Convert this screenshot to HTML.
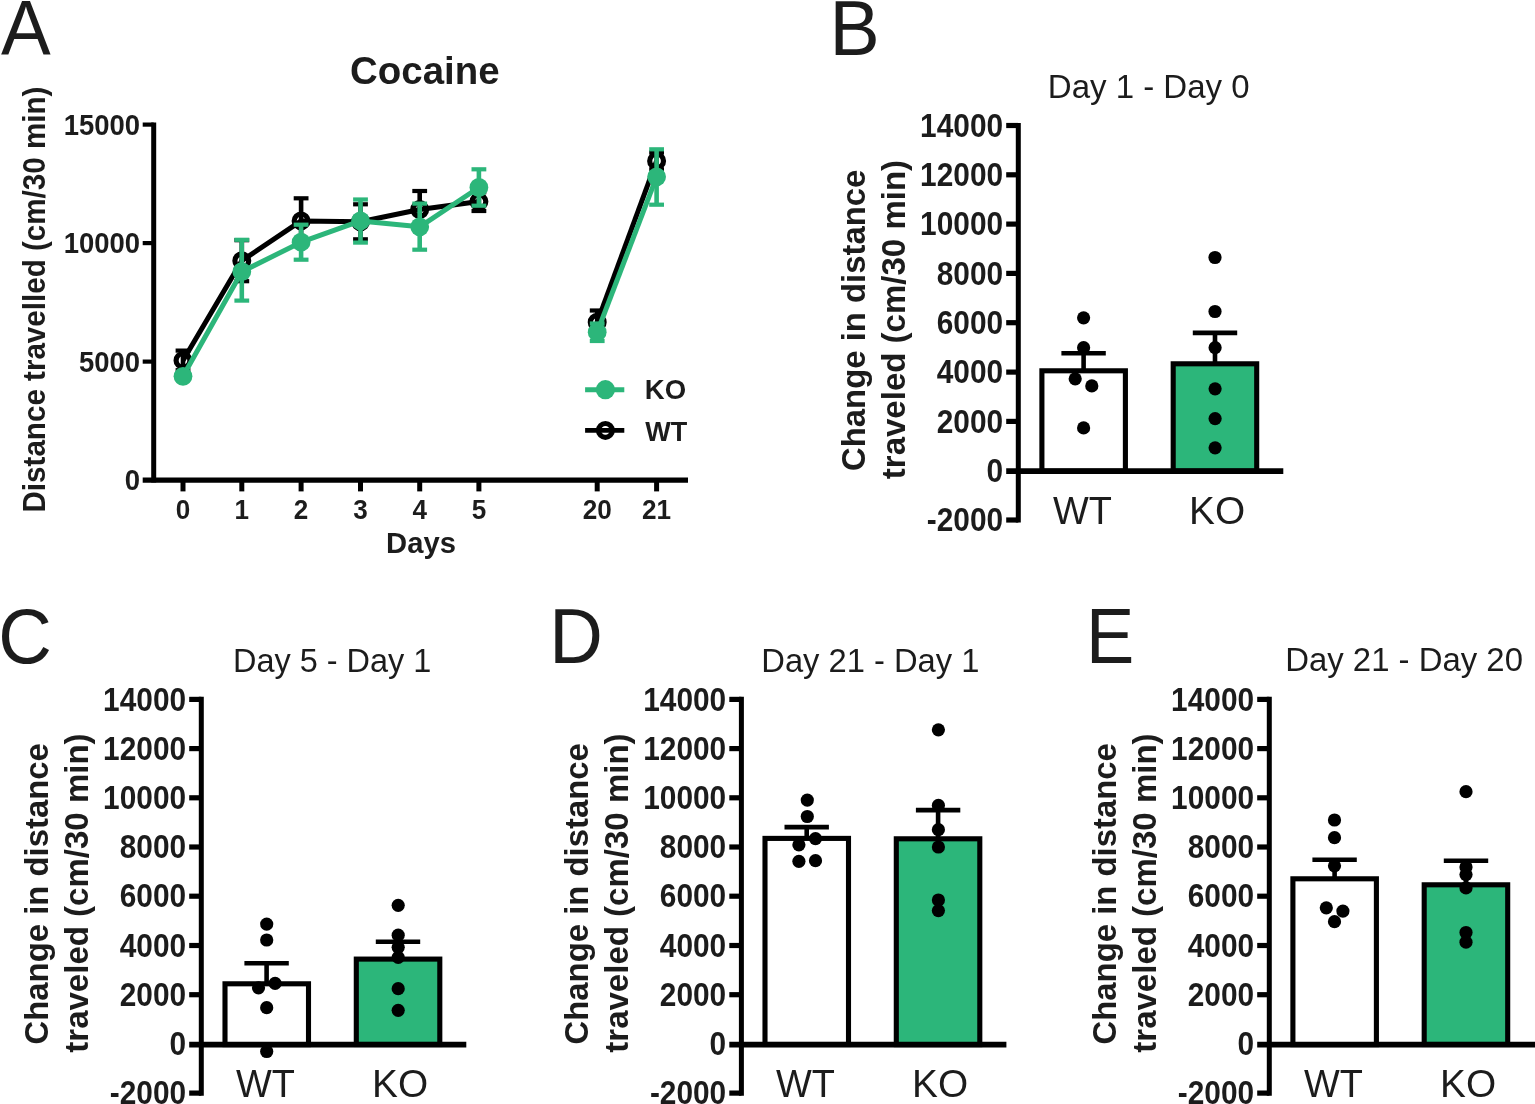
<!DOCTYPE html>
<html><head><meta charset="utf-8"><title>Figure</title>
<style>
html,body{margin:0;padding:0;background:#fff;}
body{width:1535px;height:1104px;overflow:hidden;}
svg{display:block;font-family:"Liberation Sans",sans-serif;}
text{fill:#1c1c1c;}
</style></head><body>
<svg width="1535" height="1104" viewBox="0 0 1535 1104">
<rect width="1535" height="1104" fill="#fff"/>
<text x="1.1" y="55.0" font-size="78.2" textLength="49.7" lengthAdjust="spacingAndGlyphs" fill="#000">A</text>
<text x="424.8" y="84.3" font-size="39.3" font-weight="bold" text-anchor="middle" textLength="149.5" lengthAdjust="spacingAndGlyphs">Cocaine</text>
<text x="45.3" y="512.5" font-size="31" font-weight="bold" transform="rotate(-90 45.3 512.5)" textLength="425.9" lengthAdjust="spacingAndGlyphs">Distance travelled (cm/30 min)</text>
<line x1="153.7" y1="122.5" x2="153.7" y2="482.6" stroke="#000" stroke-width="5.0"/>
<line x1="142.7" y1="480.1" x2="688.0" y2="480.1" stroke="#000" stroke-width="5.1"/>
<text x="140.0" y="490.2" font-size="28.6" font-weight="bold" text-anchor="end" textLength="15.3" lengthAdjust="spacingAndGlyphs">0</text>
<line x1="142.7" y1="361.6" x2="153.7" y2="361.6" stroke="#000" stroke-width="4.2"/>
<text x="140.0" y="371.7" font-size="28.6" font-weight="bold" text-anchor="end" textLength="61.1" lengthAdjust="spacingAndGlyphs">5000</text>
<line x1="142.7" y1="243.1" x2="153.7" y2="243.1" stroke="#000" stroke-width="4.2"/>
<text x="140.0" y="253.2" font-size="28.6" font-weight="bold" text-anchor="end" textLength="76.3" lengthAdjust="spacingAndGlyphs">10000</text>
<line x1="142.7" y1="124.6" x2="153.7" y2="124.6" stroke="#000" stroke-width="4.2"/>
<text x="140.0" y="134.7" font-size="28.6" font-weight="bold" text-anchor="end" textLength="76.3" lengthAdjust="spacingAndGlyphs">15000</text>
<line x1="183.0" y1="480.1" x2="183.0" y2="491.4" stroke="#000" stroke-width="5.0"/>
<text x="183.0" y="518.7" font-size="28.4" font-weight="bold" text-anchor="middle" textLength="14.5" lengthAdjust="spacingAndGlyphs">0</text>
<line x1="241.8" y1="480.1" x2="241.8" y2="491.4" stroke="#000" stroke-width="5.0"/>
<text x="241.8" y="518.7" font-size="28.4" font-weight="bold" text-anchor="middle" textLength="14.5" lengthAdjust="spacingAndGlyphs">1</text>
<line x1="301.1" y1="480.1" x2="301.1" y2="491.4" stroke="#000" stroke-width="5.0"/>
<text x="301.1" y="518.7" font-size="28.4" font-weight="bold" text-anchor="middle" textLength="14.5" lengthAdjust="spacingAndGlyphs">2</text>
<line x1="360.5" y1="480.1" x2="360.5" y2="491.4" stroke="#000" stroke-width="5.0"/>
<text x="360.5" y="518.7" font-size="28.4" font-weight="bold" text-anchor="middle" textLength="14.5" lengthAdjust="spacingAndGlyphs">3</text>
<line x1="419.7" y1="480.1" x2="419.7" y2="491.4" stroke="#000" stroke-width="5.0"/>
<text x="419.7" y="518.7" font-size="28.4" font-weight="bold" text-anchor="middle" textLength="14.5" lengthAdjust="spacingAndGlyphs">4</text>
<line x1="478.9" y1="480.1" x2="478.9" y2="491.4" stroke="#000" stroke-width="5.0"/>
<text x="478.9" y="518.7" font-size="28.4" font-weight="bold" text-anchor="middle" textLength="14.5" lengthAdjust="spacingAndGlyphs">5</text>
<line x1="597.2" y1="480.1" x2="597.2" y2="491.4" stroke="#000" stroke-width="5.0"/>
<text x="597.2" y="518.7" font-size="28.4" font-weight="bold" text-anchor="middle" textLength="29.1" lengthAdjust="spacingAndGlyphs">20</text>
<line x1="656.6" y1="480.1" x2="656.6" y2="491.4" stroke="#000" stroke-width="5.0"/>
<text x="656.6" y="518.7" font-size="28.4" font-weight="bold" text-anchor="middle" textLength="29.1" lengthAdjust="spacingAndGlyphs">21</text>
<text x="421.0" y="552.5" font-size="29.2" font-weight="bold" text-anchor="middle">Days</text>
<line x1="183.0" y1="350.6" x2="183.0" y2="370.2" stroke="#000" stroke-width="4.6"/>
<line x1="175.6" y1="350.6" x2="190.4" y2="350.6" stroke="#000" stroke-width="4.2"/>
<line x1="175.6" y1="370.2" x2="190.4" y2="370.2" stroke="#000" stroke-width="4.2"/>
<line x1="241.8" y1="240.2" x2="241.8" y2="281.2" stroke="#000" stroke-width="4.6"/>
<line x1="234.4" y1="240.2" x2="249.2" y2="240.2" stroke="#000" stroke-width="4.2"/>
<line x1="234.4" y1="281.2" x2="249.2" y2="281.2" stroke="#000" stroke-width="4.2"/>
<line x1="301.1" y1="198.3" x2="301.1" y2="243.5" stroke="#000" stroke-width="4.6"/>
<line x1="293.7" y1="198.3" x2="308.5" y2="198.3" stroke="#000" stroke-width="4.2"/>
<line x1="293.7" y1="243.5" x2="308.5" y2="243.5" stroke="#000" stroke-width="4.2"/>
<line x1="360.5" y1="204.3" x2="360.5" y2="239.3" stroke="#000" stroke-width="4.6"/>
<line x1="353.1" y1="204.3" x2="367.9" y2="204.3" stroke="#000" stroke-width="4.2"/>
<line x1="353.1" y1="239.3" x2="367.9" y2="239.3" stroke="#000" stroke-width="4.2"/>
<line x1="419.7" y1="191.0" x2="419.7" y2="228.0" stroke="#000" stroke-width="4.6"/>
<line x1="412.3" y1="191.0" x2="427.1" y2="191.0" stroke="#000" stroke-width="4.2"/>
<line x1="412.3" y1="228.0" x2="427.1" y2="228.0" stroke="#000" stroke-width="4.2"/>
<line x1="478.9" y1="192.2" x2="478.9" y2="211.0" stroke="#000" stroke-width="4.6"/>
<line x1="471.5" y1="192.2" x2="486.3" y2="192.2" stroke="#000" stroke-width="4.2"/>
<line x1="471.5" y1="211.0" x2="486.3" y2="211.0" stroke="#000" stroke-width="4.2"/>
<line x1="597.2" y1="310.5" x2="597.2" y2="334.0" stroke="#000" stroke-width="4.6"/>
<line x1="589.8" y1="310.5" x2="604.6" y2="310.5" stroke="#000" stroke-width="4.2"/>
<line x1="589.8" y1="334.0" x2="604.6" y2="334.0" stroke="#000" stroke-width="4.2"/>
<line x1="656.6" y1="152.5" x2="656.6" y2="169.3" stroke="#000" stroke-width="4.6"/>
<line x1="649.2" y1="152.5" x2="664.0" y2="152.5" stroke="#000" stroke-width="4.2"/>
<line x1="649.2" y1="169.3" x2="664.0" y2="169.3" stroke="#000" stroke-width="4.2"/>
<polyline points="183.0,360.4 241.8,260.7 301.1,220.9 360.5,221.8 419.7,209.5 478.9,201.6" fill="none" stroke="#000" stroke-width="5.0" stroke-linejoin="round"/>
<polyline points="597.2,322.2 656.6,160.9" fill="none" stroke="#000" stroke-width="5.0" stroke-linejoin="round"/>
<circle cx="183.0" cy="360.4" r="6.9" fill="none" stroke="#000" stroke-width="5.2"/>
<circle cx="241.8" cy="260.7" r="6.9" fill="none" stroke="#000" stroke-width="5.2"/>
<circle cx="301.1" cy="220.9" r="6.9" fill="none" stroke="#000" stroke-width="5.2"/>
<circle cx="360.5" cy="221.8" r="6.9" fill="none" stroke="#000" stroke-width="5.2"/>
<circle cx="419.7" cy="209.5" r="6.9" fill="none" stroke="#000" stroke-width="5.2"/>
<circle cx="478.9" cy="201.6" r="6.9" fill="none" stroke="#000" stroke-width="5.2"/>
<circle cx="597.2" cy="322.2" r="6.9" fill="none" stroke="#000" stroke-width="5.2"/>
<circle cx="656.6" cy="160.9" r="6.9" fill="none" stroke="#000" stroke-width="5.2"/>
<line x1="183.0" y1="373.3" x2="183.0" y2="379.3" stroke="#2cb67a" stroke-width="4.6"/>
<line x1="175.6" y1="373.3" x2="190.4" y2="373.3" stroke="#2cb67a" stroke-width="4.2"/>
<line x1="175.6" y1="379.3" x2="190.4" y2="379.3" stroke="#2cb67a" stroke-width="4.2"/>
<line x1="241.8" y1="239.8" x2="241.8" y2="300.6" stroke="#2cb67a" stroke-width="4.6"/>
<line x1="234.4" y1="239.8" x2="249.2" y2="239.8" stroke="#2cb67a" stroke-width="4.2"/>
<line x1="234.4" y1="300.6" x2="249.2" y2="300.6" stroke="#2cb67a" stroke-width="4.2"/>
<line x1="301.1" y1="224.7" x2="301.1" y2="259.7" stroke="#2cb67a" stroke-width="4.6"/>
<line x1="293.7" y1="224.7" x2="308.5" y2="224.7" stroke="#2cb67a" stroke-width="4.2"/>
<line x1="293.7" y1="259.7" x2="308.5" y2="259.7" stroke="#2cb67a" stroke-width="4.2"/>
<line x1="360.5" y1="199.5" x2="360.5" y2="242.6" stroke="#2cb67a" stroke-width="4.6"/>
<line x1="353.1" y1="199.5" x2="367.9" y2="199.5" stroke="#2cb67a" stroke-width="4.2"/>
<line x1="353.1" y1="242.6" x2="367.9" y2="242.6" stroke="#2cb67a" stroke-width="4.2"/>
<line x1="419.7" y1="203.6" x2="419.7" y2="249.7" stroke="#2cb67a" stroke-width="4.6"/>
<line x1="412.3" y1="203.6" x2="427.1" y2="203.6" stroke="#2cb67a" stroke-width="4.2"/>
<line x1="412.3" y1="249.7" x2="427.1" y2="249.7" stroke="#2cb67a" stroke-width="4.2"/>
<line x1="478.9" y1="169.3" x2="478.9" y2="205.7" stroke="#2cb67a" stroke-width="4.6"/>
<line x1="471.5" y1="169.3" x2="486.3" y2="169.3" stroke="#2cb67a" stroke-width="4.2"/>
<line x1="471.5" y1="205.7" x2="486.3" y2="205.7" stroke="#2cb67a" stroke-width="4.2"/>
<line x1="597.2" y1="323.5" x2="597.2" y2="341.0" stroke="#2cb67a" stroke-width="4.6"/>
<line x1="589.8" y1="323.5" x2="604.6" y2="323.5" stroke="#2cb67a" stroke-width="4.2"/>
<line x1="589.8" y1="341.0" x2="604.6" y2="341.0" stroke="#2cb67a" stroke-width="4.2"/>
<line x1="656.6" y1="149.3" x2="656.6" y2="204.7" stroke="#2cb67a" stroke-width="4.6"/>
<line x1="649.2" y1="149.3" x2="664.0" y2="149.3" stroke="#2cb67a" stroke-width="4.2"/>
<line x1="649.2" y1="204.7" x2="664.0" y2="204.7" stroke="#2cb67a" stroke-width="4.2"/>
<polyline points="183.0,376.3 241.8,271.7 301.1,242.2 360.5,220.9 419.7,226.8 478.9,187.5" fill="none" stroke="#2cb67a" stroke-width="5.0" stroke-linejoin="round"/>
<polyline points="597.2,332.2 656.6,176.8" fill="none" stroke="#2cb67a" stroke-width="5.0" stroke-linejoin="round"/>
<circle cx="183.0" cy="376.3" r="9.4" fill="#2cb67a"/>
<circle cx="241.8" cy="271.7" r="9.4" fill="#2cb67a"/>
<circle cx="301.1" cy="242.2" r="9.4" fill="#2cb67a"/>
<circle cx="360.5" cy="220.9" r="9.4" fill="#2cb67a"/>
<circle cx="419.7" cy="226.8" r="9.4" fill="#2cb67a"/>
<circle cx="478.9" cy="187.5" r="9.4" fill="#2cb67a"/>
<circle cx="597.2" cy="332.2" r="9.4" fill="#2cb67a"/>
<circle cx="656.6" cy="176.8" r="9.4" fill="#2cb67a"/>
<line x1="585.1" y1="389.7" x2="624.3" y2="389.7" stroke="#2cb67a" stroke-width="5.0"/>
<circle cx="605.4" cy="389.7" r="9.6" fill="#2cb67a"/>
<text x="644.8" y="399.3" font-size="28" font-weight="bold" textLength="41.3" lengthAdjust="spacingAndGlyphs">KO</text>
<line x1="585.1" y1="430.4" x2="624.3" y2="430.4" stroke="#000" stroke-width="4.8"/>
<circle cx="605.4" cy="430.4" r="6.9" fill="none" stroke="#000" stroke-width="5.2"/>
<text x="645.3" y="440.6" font-size="28" font-weight="bold" textLength="42.0" lengthAdjust="spacingAndGlyphs">WT</text>
<text x="829.4" y="55.0" font-size="78.2" textLength="50.2" lengthAdjust="spacingAndGlyphs" fill="#000">B</text>
<text x="1047.8" y="97.5" font-size="32.6" textLength="201.8" lengthAdjust="spacingAndGlyphs">Day 1 - Day 0</text>
<text x="864.9" y="471.0" font-size="33" font-weight="bold" transform="rotate(-90 864.9 471.0)" textLength="301.4" lengthAdjust="spacingAndGlyphs">Change in distance</text>
<text x="904.7" y="479.2" font-size="33" font-weight="bold" transform="rotate(-90 904.7 479.2)" textLength="319.3" lengthAdjust="spacingAndGlyphs">traveled (cm/30 min)</text>
<rect x="1041.9" y="370.8" width="83.5" height="100.3" fill="#fff" stroke="#000" stroke-width="5.1"/>
<rect x="1173.2" y="363.8" width="83.5" height="107.3" fill="#2cb67a" stroke="#000" stroke-width="5.1"/>
<line x1="1083.6" y1="353.2" x2="1083.6" y2="370.2" stroke="#000" stroke-width="4.6"/>
<line x1="1061.4" y1="353.2" x2="1105.8" y2="353.2" stroke="#000" stroke-width="4.6"/>
<line x1="1215.0" y1="332.9" x2="1215.0" y2="363.2" stroke="#000" stroke-width="4.6"/>
<line x1="1192.8" y1="332.9" x2="1237.2" y2="332.9" stroke="#000" stroke-width="4.6"/>
<line x1="1018.3" y1="122.9" x2="1018.3" y2="522.6" stroke="#000" stroke-width="5.0"/>
<line x1="1006.2" y1="471.1" x2="1283.3" y2="471.1" stroke="#000" stroke-width="5.6"/>
<line x1="1006.2" y1="520.0" x2="1018.3" y2="520.0" stroke="#000" stroke-width="5.2"/>
<text x="1003.1" y="531.1" font-size="33.6" font-weight="bold" text-anchor="end" textLength="76.3" lengthAdjust="spacingAndGlyphs">-2000</text>
<text x="1003.1" y="481.8" font-size="33.6" font-weight="bold" text-anchor="end" textLength="16.6" lengthAdjust="spacingAndGlyphs">0</text>
<line x1="1006.2" y1="421.4" x2="1018.3" y2="421.4" stroke="#000" stroke-width="5.2"/>
<text x="1003.1" y="432.5" font-size="33.6" font-weight="bold" text-anchor="end" textLength="66.4" lengthAdjust="spacingAndGlyphs">2000</text>
<line x1="1006.2" y1="372.1" x2="1018.3" y2="372.1" stroke="#000" stroke-width="5.2"/>
<text x="1003.1" y="383.2" font-size="33.6" font-weight="bold" text-anchor="end" textLength="66.4" lengthAdjust="spacingAndGlyphs">4000</text>
<line x1="1006.2" y1="322.7" x2="1018.3" y2="322.7" stroke="#000" stroke-width="5.2"/>
<text x="1003.1" y="333.8" font-size="33.6" font-weight="bold" text-anchor="end" textLength="66.4" lengthAdjust="spacingAndGlyphs">6000</text>
<line x1="1006.2" y1="273.4" x2="1018.3" y2="273.4" stroke="#000" stroke-width="5.2"/>
<text x="1003.1" y="284.5" font-size="33.6" font-weight="bold" text-anchor="end" textLength="66.4" lengthAdjust="spacingAndGlyphs">8000</text>
<line x1="1006.2" y1="224.1" x2="1018.3" y2="224.1" stroke="#000" stroke-width="5.2"/>
<text x="1003.1" y="235.2" font-size="33.6" font-weight="bold" text-anchor="end" textLength="83.0" lengthAdjust="spacingAndGlyphs">10000</text>
<line x1="1006.2" y1="174.8" x2="1018.3" y2="174.8" stroke="#000" stroke-width="5.2"/>
<text x="1003.1" y="185.9" font-size="33.6" font-weight="bold" text-anchor="end" textLength="83.0" lengthAdjust="spacingAndGlyphs">12000</text>
<line x1="1006.2" y1="125.5" x2="1018.3" y2="125.5" stroke="#000" stroke-width="5.2"/>
<text x="1003.1" y="136.6" font-size="33.6" font-weight="bold" text-anchor="end" textLength="83.0" lengthAdjust="spacingAndGlyphs">14000</text>
<circle cx="1083.6" cy="317.8" r="6.6" fill="#000"/>
<circle cx="1083.6" cy="347.7" r="6.6" fill="#000"/>
<circle cx="1075.2" cy="378.8" r="6.6" fill="#000"/>
<circle cx="1091.8" cy="385.9" r="6.6" fill="#000"/>
<circle cx="1083.6" cy="427.9" r="6.6" fill="#000"/>
<circle cx="1215.0" cy="257.5" r="6.6" fill="#000"/>
<circle cx="1215.0" cy="311.5" r="6.6" fill="#000"/>
<circle cx="1215.1" cy="347.7" r="6.6" fill="#000"/>
<circle cx="1215.1" cy="388.8" r="6.6" fill="#000"/>
<circle cx="1215.1" cy="418.6" r="6.6" fill="#000"/>
<circle cx="1215.1" cy="447.8" r="6.6" fill="#000"/>
<text x="1052.9" y="523.8" font-size="39.5" textLength="58.9" lengthAdjust="spacingAndGlyphs">WT</text>
<text x="1189.0" y="523.8" font-size="39.5" textLength="56.1" lengthAdjust="spacingAndGlyphs">KO</text>
<text x="-1.7" y="663.4" font-size="78.2" textLength="53.6" lengthAdjust="spacingAndGlyphs" fill="#000">C</text>
<text x="233.0" y="671.5" font-size="32.6" textLength="198.3" lengthAdjust="spacingAndGlyphs">Day 5 - Day 1</text>
<text x="47.9" y="1044.5" font-size="33" font-weight="bold" transform="rotate(-90 47.9 1044.5)" textLength="301.4" lengthAdjust="spacingAndGlyphs">Change in distance</text>
<text x="87.7" y="1052.7" font-size="33" font-weight="bold" transform="rotate(-90 87.7 1052.7)" textLength="319.3" lengthAdjust="spacingAndGlyphs">traveled (cm/30 min)</text>
<rect x="225.0" y="983.8" width="83.5" height="60.8" fill="#fff" stroke="#000" stroke-width="5.1"/>
<rect x="356.3" y="959.1" width="83.5" height="85.4" fill="#2cb67a" stroke="#000" stroke-width="5.1"/>
<line x1="266.6" y1="963.3" x2="266.6" y2="983.2" stroke="#000" stroke-width="4.6"/>
<line x1="244.4" y1="963.3" x2="288.8" y2="963.3" stroke="#000" stroke-width="4.6"/>
<line x1="398.0" y1="941.8" x2="398.0" y2="958.6" stroke="#000" stroke-width="4.6"/>
<line x1="375.8" y1="941.8" x2="420.2" y2="941.8" stroke="#000" stroke-width="4.6"/>
<line x1="201.3" y1="696.8" x2="201.3" y2="1095.7" stroke="#000" stroke-width="5.0"/>
<line x1="189.2" y1="1044.6" x2="466.3" y2="1044.6" stroke="#000" stroke-width="5.6"/>
<line x1="189.2" y1="1093.1" x2="201.3" y2="1093.1" stroke="#000" stroke-width="5.2"/>
<text x="186.1" y="1104.2" font-size="33.6" font-weight="bold" text-anchor="end" textLength="76.3" lengthAdjust="spacingAndGlyphs">-2000</text>
<text x="186.1" y="1055.0" font-size="33.6" font-weight="bold" text-anchor="end" textLength="16.6" lengthAdjust="spacingAndGlyphs">0</text>
<line x1="189.2" y1="994.7" x2="201.3" y2="994.7" stroke="#000" stroke-width="5.2"/>
<text x="186.1" y="1005.8" font-size="33.6" font-weight="bold" text-anchor="end" textLength="66.4" lengthAdjust="spacingAndGlyphs">2000</text>
<line x1="189.2" y1="945.5" x2="201.3" y2="945.5" stroke="#000" stroke-width="5.2"/>
<text x="186.1" y="956.6" font-size="33.6" font-weight="bold" text-anchor="end" textLength="66.4" lengthAdjust="spacingAndGlyphs">4000</text>
<line x1="189.2" y1="896.2" x2="201.3" y2="896.2" stroke="#000" stroke-width="5.2"/>
<text x="186.1" y="907.3" font-size="33.6" font-weight="bold" text-anchor="end" textLength="66.4" lengthAdjust="spacingAndGlyphs">6000</text>
<line x1="189.2" y1="847.0" x2="201.3" y2="847.0" stroke="#000" stroke-width="5.2"/>
<text x="186.1" y="858.1" font-size="33.6" font-weight="bold" text-anchor="end" textLength="66.4" lengthAdjust="spacingAndGlyphs">8000</text>
<line x1="189.2" y1="797.8" x2="201.3" y2="797.8" stroke="#000" stroke-width="5.2"/>
<text x="186.1" y="808.9" font-size="33.6" font-weight="bold" text-anchor="end" textLength="83.0" lengthAdjust="spacingAndGlyphs">10000</text>
<line x1="189.2" y1="748.6" x2="201.3" y2="748.6" stroke="#000" stroke-width="5.2"/>
<text x="186.1" y="759.7" font-size="33.6" font-weight="bold" text-anchor="end" textLength="83.0" lengthAdjust="spacingAndGlyphs">12000</text>
<line x1="189.2" y1="699.4" x2="201.3" y2="699.4" stroke="#000" stroke-width="5.2"/>
<text x="186.1" y="710.5" font-size="33.6" font-weight="bold" text-anchor="end" textLength="83.0" lengthAdjust="spacingAndGlyphs">14000</text>
<circle cx="266.7" cy="924.1" r="6.6" fill="#000"/>
<circle cx="266.7" cy="940.0" r="6.6" fill="#000"/>
<circle cx="258.5" cy="987.8" r="6.6" fill="#000"/>
<circle cx="275.1" cy="983.4" r="6.6" fill="#000"/>
<circle cx="266.7" cy="1007.7" r="6.6" fill="#000"/>
<circle cx="266.7" cy="1051.5" r="6.6" fill="#000"/>
<circle cx="398.2" cy="905.3" r="6.6" fill="#000"/>
<circle cx="398.2" cy="935.2" r="6.6" fill="#000"/>
<circle cx="398.2" cy="947.3" r="6.6" fill="#000"/>
<circle cx="398.2" cy="957.3" r="6.6" fill="#000"/>
<circle cx="398.2" cy="988.7" r="6.6" fill="#000"/>
<circle cx="398.2" cy="1010.3" r="6.6" fill="#000"/>
<text x="235.9" y="1097.3" font-size="39.5" textLength="58.9" lengthAdjust="spacingAndGlyphs">WT</text>
<text x="372.0" y="1097.3" font-size="39.5" textLength="56.1" lengthAdjust="spacingAndGlyphs">KO</text>
<text x="549.2" y="662.9" font-size="78.2" textLength="53.6" lengthAdjust="spacingAndGlyphs" fill="#000">D</text>
<text x="761.3" y="671.6" font-size="32.6" textLength="218.1" lengthAdjust="spacingAndGlyphs">Day 21 - Day 1</text>
<text x="588.0" y="1044.5" font-size="33" font-weight="bold" transform="rotate(-90 588.0 1044.5)" textLength="301.4" lengthAdjust="spacingAndGlyphs">Change in distance</text>
<text x="627.8" y="1052.7" font-size="33" font-weight="bold" transform="rotate(-90 627.8 1052.7)" textLength="319.3" lengthAdjust="spacingAndGlyphs">traveled (cm/30 min)</text>
<rect x="765.0" y="838.4" width="83.5" height="206.1" fill="#fff" stroke="#000" stroke-width="5.1"/>
<rect x="896.3" y="838.8" width="83.5" height="205.8" fill="#2cb67a" stroke="#000" stroke-width="5.1"/>
<line x1="806.7" y1="827.1" x2="806.7" y2="837.9" stroke="#000" stroke-width="4.6"/>
<line x1="784.5" y1="827.1" x2="828.9" y2="827.1" stroke="#000" stroke-width="4.6"/>
<line x1="938.1" y1="810.1" x2="938.1" y2="838.2" stroke="#000" stroke-width="4.6"/>
<line x1="915.9" y1="810.1" x2="960.3" y2="810.1" stroke="#000" stroke-width="4.6"/>
<line x1="741.4" y1="696.8" x2="741.4" y2="1095.7" stroke="#000" stroke-width="5.0"/>
<line x1="729.3" y1="1044.6" x2="1006.4" y2="1044.6" stroke="#000" stroke-width="5.6"/>
<line x1="729.3" y1="1093.1" x2="741.4" y2="1093.1" stroke="#000" stroke-width="5.2"/>
<text x="726.2" y="1104.2" font-size="33.6" font-weight="bold" text-anchor="end" textLength="76.3" lengthAdjust="spacingAndGlyphs">-2000</text>
<text x="726.2" y="1055.0" font-size="33.6" font-weight="bold" text-anchor="end" textLength="16.6" lengthAdjust="spacingAndGlyphs">0</text>
<line x1="729.3" y1="994.7" x2="741.4" y2="994.7" stroke="#000" stroke-width="5.2"/>
<text x="726.2" y="1005.8" font-size="33.6" font-weight="bold" text-anchor="end" textLength="66.4" lengthAdjust="spacingAndGlyphs">2000</text>
<line x1="729.3" y1="945.5" x2="741.4" y2="945.5" stroke="#000" stroke-width="5.2"/>
<text x="726.2" y="956.6" font-size="33.6" font-weight="bold" text-anchor="end" textLength="66.4" lengthAdjust="spacingAndGlyphs">4000</text>
<line x1="729.3" y1="896.2" x2="741.4" y2="896.2" stroke="#000" stroke-width="5.2"/>
<text x="726.2" y="907.3" font-size="33.6" font-weight="bold" text-anchor="end" textLength="66.4" lengthAdjust="spacingAndGlyphs">6000</text>
<line x1="729.3" y1="847.0" x2="741.4" y2="847.0" stroke="#000" stroke-width="5.2"/>
<text x="726.2" y="858.1" font-size="33.6" font-weight="bold" text-anchor="end" textLength="66.4" lengthAdjust="spacingAndGlyphs">8000</text>
<line x1="729.3" y1="797.8" x2="741.4" y2="797.8" stroke="#000" stroke-width="5.2"/>
<text x="726.2" y="808.9" font-size="33.6" font-weight="bold" text-anchor="end" textLength="83.0" lengthAdjust="spacingAndGlyphs">10000</text>
<line x1="729.3" y1="748.6" x2="741.4" y2="748.6" stroke="#000" stroke-width="5.2"/>
<text x="726.2" y="759.7" font-size="33.6" font-weight="bold" text-anchor="end" textLength="83.0" lengthAdjust="spacingAndGlyphs">12000</text>
<line x1="729.3" y1="699.4" x2="741.4" y2="699.4" stroke="#000" stroke-width="5.2"/>
<text x="726.2" y="710.5" font-size="33.6" font-weight="bold" text-anchor="end" textLength="83.0" lengthAdjust="spacingAndGlyphs">14000</text>
<circle cx="807.3" cy="800.1" r="6.6" fill="#000"/>
<circle cx="807.3" cy="816.5" r="6.6" fill="#000"/>
<circle cx="815.5" cy="838.6" r="6.6" fill="#000"/>
<circle cx="798.9" cy="844.8" r="6.6" fill="#000"/>
<circle cx="798.9" cy="861.3" r="6.6" fill="#000"/>
<circle cx="815.5" cy="860.7" r="6.6" fill="#000"/>
<circle cx="938.4" cy="729.8" r="6.6" fill="#000"/>
<circle cx="938.4" cy="805.4" r="6.6" fill="#000"/>
<circle cx="938.4" cy="829.7" r="6.6" fill="#000"/>
<circle cx="938.4" cy="847.0" r="6.6" fill="#000"/>
<circle cx="938.4" cy="900.0" r="6.6" fill="#000"/>
<circle cx="938.4" cy="910.6" r="6.6" fill="#000"/>
<text x="776.0" y="1097.3" font-size="39.5" textLength="58.9" lengthAdjust="spacingAndGlyphs">WT</text>
<text x="912.1" y="1097.3" font-size="39.5" textLength="56.1" lengthAdjust="spacingAndGlyphs">KO</text>
<text x="1086.1" y="662.9" font-size="78.2" textLength="48.3" lengthAdjust="spacingAndGlyphs" fill="#000">E</text>
<text x="1285.2" y="671.4" font-size="32.6" textLength="237.8" lengthAdjust="spacingAndGlyphs">Day 21 - Day 20</text>
<text x="1115.9" y="1044.5" font-size="33" font-weight="bold" transform="rotate(-90 1115.9 1044.5)" textLength="301.4" lengthAdjust="spacingAndGlyphs">Change in distance</text>
<text x="1155.7" y="1052.7" font-size="33" font-weight="bold" transform="rotate(-90 1155.7 1052.7)" textLength="319.3" lengthAdjust="spacingAndGlyphs">traveled (cm/30 min)</text>
<rect x="1292.9" y="878.8" width="83.5" height="165.8" fill="#fff" stroke="#000" stroke-width="5.1"/>
<rect x="1424.2" y="884.8" width="83.5" height="159.7" fill="#2cb67a" stroke="#000" stroke-width="5.1"/>
<line x1="1334.6" y1="859.8" x2="1334.6" y2="878.2" stroke="#000" stroke-width="4.6"/>
<line x1="1312.4" y1="859.8" x2="1356.8" y2="859.8" stroke="#000" stroke-width="4.6"/>
<line x1="1466.0" y1="860.7" x2="1466.0" y2="884.3" stroke="#000" stroke-width="4.6"/>
<line x1="1443.8" y1="860.7" x2="1488.2" y2="860.7" stroke="#000" stroke-width="4.6"/>
<line x1="1269.3" y1="696.8" x2="1269.3" y2="1095.7" stroke="#000" stroke-width="5.0"/>
<line x1="1257.2" y1="1044.6" x2="1535.0" y2="1044.6" stroke="#000" stroke-width="5.6"/>
<line x1="1257.2" y1="1093.1" x2="1269.3" y2="1093.1" stroke="#000" stroke-width="5.2"/>
<text x="1254.1" y="1104.2" font-size="33.6" font-weight="bold" text-anchor="end" textLength="76.3" lengthAdjust="spacingAndGlyphs">-2000</text>
<text x="1254.1" y="1055.0" font-size="33.6" font-weight="bold" text-anchor="end" textLength="16.6" lengthAdjust="spacingAndGlyphs">0</text>
<line x1="1257.2" y1="994.7" x2="1269.3" y2="994.7" stroke="#000" stroke-width="5.2"/>
<text x="1254.1" y="1005.8" font-size="33.6" font-weight="bold" text-anchor="end" textLength="66.4" lengthAdjust="spacingAndGlyphs">2000</text>
<line x1="1257.2" y1="945.5" x2="1269.3" y2="945.5" stroke="#000" stroke-width="5.2"/>
<text x="1254.1" y="956.6" font-size="33.6" font-weight="bold" text-anchor="end" textLength="66.4" lengthAdjust="spacingAndGlyphs">4000</text>
<line x1="1257.2" y1="896.2" x2="1269.3" y2="896.2" stroke="#000" stroke-width="5.2"/>
<text x="1254.1" y="907.3" font-size="33.6" font-weight="bold" text-anchor="end" textLength="66.4" lengthAdjust="spacingAndGlyphs">6000</text>
<line x1="1257.2" y1="847.0" x2="1269.3" y2="847.0" stroke="#000" stroke-width="5.2"/>
<text x="1254.1" y="858.1" font-size="33.6" font-weight="bold" text-anchor="end" textLength="66.4" lengthAdjust="spacingAndGlyphs">8000</text>
<line x1="1257.2" y1="797.8" x2="1269.3" y2="797.8" stroke="#000" stroke-width="5.2"/>
<text x="1254.1" y="808.9" font-size="33.6" font-weight="bold" text-anchor="end" textLength="83.0" lengthAdjust="spacingAndGlyphs">10000</text>
<line x1="1257.2" y1="748.6" x2="1269.3" y2="748.6" stroke="#000" stroke-width="5.2"/>
<text x="1254.1" y="759.7" font-size="33.6" font-weight="bold" text-anchor="end" textLength="83.0" lengthAdjust="spacingAndGlyphs">12000</text>
<line x1="1257.2" y1="699.4" x2="1269.3" y2="699.4" stroke="#000" stroke-width="5.2"/>
<text x="1254.1" y="710.5" font-size="33.6" font-weight="bold" text-anchor="end" textLength="83.0" lengthAdjust="spacingAndGlyphs">14000</text>
<circle cx="1334.5" cy="820.0" r="6.6" fill="#000"/>
<circle cx="1334.5" cy="837.7" r="6.6" fill="#000"/>
<circle cx="1334.5" cy="865.8" r="6.6" fill="#000"/>
<circle cx="1326.3" cy="907.8" r="6.6" fill="#000"/>
<circle cx="1342.9" cy="911.1" r="6.6" fill="#000"/>
<circle cx="1334.5" cy="921.7" r="6.6" fill="#000"/>
<circle cx="1466.0" cy="791.7" r="6.6" fill="#000"/>
<circle cx="1466.0" cy="866.9" r="6.6" fill="#000"/>
<circle cx="1466.0" cy="874.6" r="6.6" fill="#000"/>
<circle cx="1466.0" cy="887.9" r="6.6" fill="#000"/>
<circle cx="1466.0" cy="932.5" r="6.6" fill="#000"/>
<circle cx="1466.0" cy="942.2" r="6.6" fill="#000"/>
<text x="1303.9" y="1097.3" font-size="39.5" textLength="58.9" lengthAdjust="spacingAndGlyphs">WT</text>
<text x="1440.0" y="1097.3" font-size="39.5" textLength="56.1" lengthAdjust="spacingAndGlyphs">KO</text>
</svg>
</body></html>
